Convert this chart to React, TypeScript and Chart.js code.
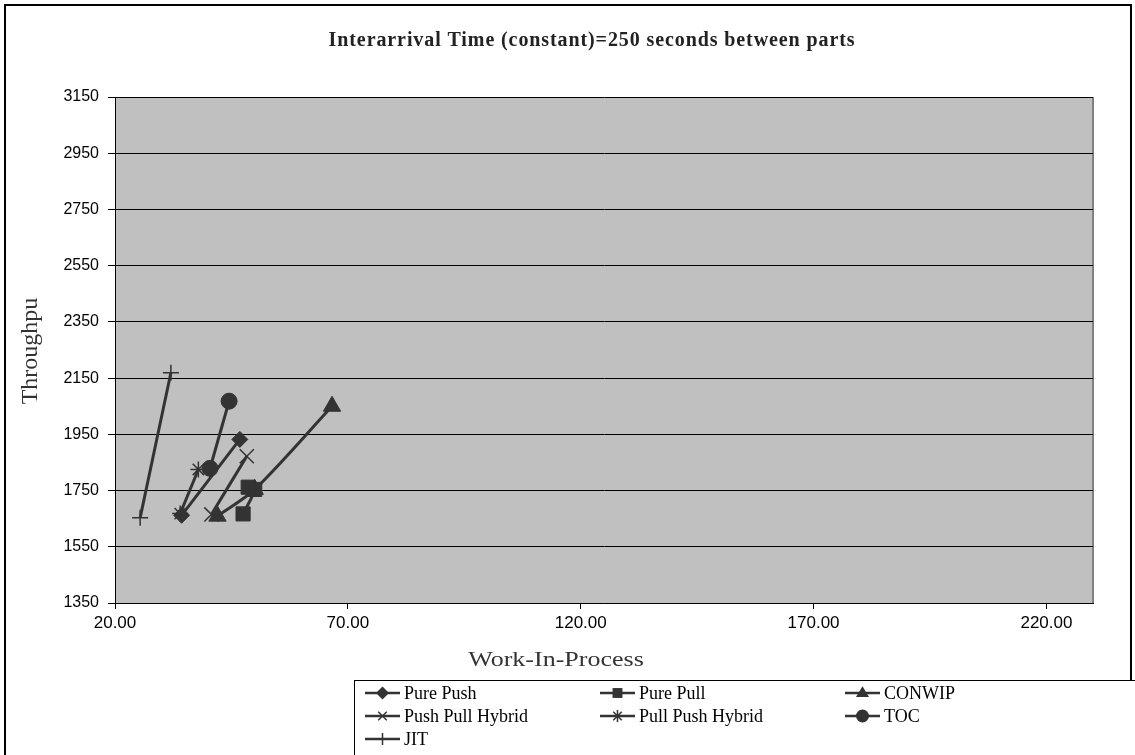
import React, { useEffect, useRef } from 'react';
import { Chart, registerables } from 'chart.js';

Chart.register(...registerables);

// ---- data ----
const seriesNames = ['Pure Push', 'Pure Pull', 'CONWIP', 'Push Pull Hybrid', 'Pull Push Hybrid', 'TOC', 'JIT'];
const purePushWip = [34.3, 46.8];
const purePushThr = [1662, 1932];
const purePullWip = [47.5, 50.0, 48.6];
const purePullThr = [1667, 1754, 1762];
const conwipWip = [42.0, 50.0, 66.6];
const conwipThr = [1659, 1754, 2050];
const pushPullWip = [40.7, 48.3];
const pushPullThr = [1665, 1872];
const pullPushWip = [34.0, 37.9];
const pullPushThr = [1668, 1825];
const tocWip = [40.4, 44.5];
const tocThr = [1829, 2068];
const jitWip = [25.4, 32.0];
const jitThr = [1653, 2169];
const xTicks = [20, 70, 120, 170, 220];
const yTicks = [1350, 1550, 1750, 1950, 2150, 2350, 2550, 2750, 2950, 3150];
const chartTitle = 'Interarrival Time (constant)=250 seconds between parts';
const xTitle = 'Work-In-Process';
const yTitle = 'Throughpu';

const INK = '#333333';
const markerStyles = ['rectRot', 'rect', 'triangle', 'crossRot', 'star', 'circle', 'cross'];
const markerRadius = [8, 10, 10, 10, 8, 8, 8];
const legendRadius = [6.5, 7, 7.5, 6, 6, 6.5, 6];

const toPts = (xs: number[], ys: number[]) => xs.map((x, i) => ({ x, y: ys[i] }));
const seriesData = [
  toPts(purePushWip, purePushThr),
  toPts(purePullWip, purePullThr),
  toPts(conwipWip, conwipThr),
  toPts(pushPullWip, pushPullThr),
  toPts(pullPushWip, pullPushThr),
  toPts(tocWip, tocThr),
  toPts(jitWip, jitThr),
];

function drawMarker(ctx: CanvasRenderingContext2D, style: string, x: number, y: number, r: number) {
  ctx.save();
  ctx.fillStyle = INK;
  ctx.strokeStyle = INK;
  ctx.lineWidth = 1.5;
  ctx.beginPath();
  if (style === 'rectRot') {
    ctx.moveTo(x, y - r); ctx.lineTo(x + r, y); ctx.lineTo(x, y + r); ctx.lineTo(x - r, y); ctx.closePath(); ctx.fill();
  } else if (style === 'rect') {
    const h = r * Math.SQRT1_2; ctx.rect(x - h, y - h, 2 * h, 2 * h); ctx.fill();
  } else if (style === 'triangle') {
    const h = r * 0.9;
    ctx.moveTo(x, y - h); ctx.lineTo(x + r * 0.87, y + h * 0.6); ctx.lineTo(x - r * 0.87, y + h * 0.6); ctx.closePath(); ctx.fill();
  } else if (style === 'circle') {
    ctx.arc(x, y, r, 0, Math.PI * 2); ctx.fill();
  } else if (style === 'cross') {
    ctx.moveTo(x - r, y); ctx.lineTo(x + r, y); ctx.moveTo(x, y - r); ctx.lineTo(x, y + r); ctx.stroke();
  } else if (style === 'crossRot') {
    const d = r * Math.SQRT1_2;
    ctx.moveTo(x - d, y - d); ctx.lineTo(x + d, y + d); ctx.moveTo(x - d, y + d); ctx.lineTo(x + d, y - d); ctx.stroke();
  } else if (style === 'star') {
    const d = r * Math.SQRT1_2;
    ctx.moveTo(x - d, y - d); ctx.lineTo(x + d, y + d); ctx.moveTo(x - d, y + d); ctx.lineTo(x + d, y - d);
    ctx.moveTo(x, y - r); ctx.lineTo(x, y + r); ctx.stroke();
  }
  ctx.restore();
}

const decorPlugin = {
  id: 'decor',
  beforeDraw(chart: any) {
    const { ctx, chartArea } = chart;
    ctx.save();
    ctx.fillStyle = '#ffffff';
    ctx.fillRect(0, 0, chart.width, chart.height);
    ctx.fillStyle = '#c0c0c0';
    ctx.fillRect(chartArea.left, chartArea.top, chartArea.right - chartArea.left, chartArea.bottom - chartArea.top);
    ctx.strokeStyle = '#808080';
    ctx.lineWidth = 2;
    ctx.beginPath();
    ctx.moveTo(chartArea.right, chartArea.top);
    ctx.lineTo(chartArea.right, chartArea.bottom);
    ctx.stroke();
    ctx.restore();
  },
  afterDraw(chart: any) {
    const { ctx } = chart;
    ctx.save();
    // outer frame
    ctx.strokeStyle = '#000';
    ctx.lineWidth = 2;
    ctx.strokeRect(5, 5, 1126, 800);
    // title
    ctx.fillStyle = '#222';
    ctx.textAlign = 'center';
    ctx.textBaseline = 'middle';
    ctx.font = 'bold 20px "Liberation Serif"';
    (ctx as any).letterSpacing = '0.9px';
    ctx.fillText(chartTitle, 592, 41);
    (ctx as any).letterSpacing = '0px';
    // axis titles
    ctx.fillStyle = '#333';
    ctx.font = '20px "Liberation Serif"';
    ctx.save();
    ctx.translate(556, 661);
    ctx.scale(1.3, 1);
    ctx.fillText(xTitle, 0, 0);
    ctx.restore();
    ctx.save();
    ctx.translate(31, 351);
    ctx.rotate(-Math.PI / 2);
    ctx.font = '24px "Liberation Serif"';
    ctx.fillText(yTitle, 0, 0);
    ctx.restore();
    // legend box
    ctx.fillStyle = '#fff';
    ctx.fillRect(354, 680, 900, 200);
    ctx.strokeStyle = '#000';
    ctx.lineWidth = 1;
    ctx.strokeRect(354.5, 680.5, 900, 200);
    const colX = [365, 600, 845];
    const rowY = [693, 716, 739];
    ctx.textAlign = 'left';
    ctx.font = '18px "Liberation Serif"';
    seriesNames.forEach((name, i) => {
      const cx = colX[i % 3];
      const cy = rowY[Math.floor(i / 3)];
      ctx.strokeStyle = INK;
      ctx.lineWidth = 2.5;
      ctx.beginPath();
      ctx.moveTo(cx, cy);
      ctx.lineTo(cx + 35, cy);
      ctx.stroke();
      drawMarker(ctx, markerStyles[i], cx + 17.5, cy, legendRadius[i]);
      ctx.fillStyle = '#000';
      ctx.fillText(name, cx + 39, cy + 1);
    });
    ctx.restore();
  },
};

export default function App() {
  const ref = useRef<HTMLCanvasElement>(null);
  useEffect(() => {
    if (!ref.current) return;
    const chart = new Chart(ref.current, {
      type: 'line',
      data: {
        datasets: seriesNames.map((name, i) => ({
          label: name,
          data: seriesData[i],
          borderColor: INK,
          backgroundColor: INK,
          borderWidth: 3,
          tension: 0.3,
          pointStyle: markerStyles[i] as any,
          pointRadius: markerRadius[i],
          pointBorderWidth: ['cross', 'crossRot', 'star'].includes(markerStyles[i]) ? 1.5 : 1,
          pointBorderColor: INK,
          pointBackgroundColor: INK,
          fill: false,
        })),
      },
      options: {
        animation: false,
        responsive: false,
        devicePixelRatio: 1,
        layout: { padding: { left: 0, right: 42, top: 97, bottom: 0 } },
        plugins: { legend: { display: false }, title: { display: false }, tooltip: { enabled: false } },
        scales: {
          x: {
            type: 'linear',
            min: 20,
            max: 230,
            afterFit: (s: any) => { s.height = 152; },
            afterBuildTicks: (s: any) => { s.ticks = xTicks.map((v) => ({ value: v })); },
            grid: { display: true, drawOnChartArea: false, drawTicks: true, tickLength: 6, color: '#000', tickColor: '#000' },
            border: { display: true, color: '#000', width: 1 },
            ticks: {
              color: '#000',
              padding: 4,
              maxRotation: 0,
              font: { family: '"Liberation Sans"', size: 17 },
              callback: (v: any) => Number(v).toFixed(2),
            },
          },
          y: {
            type: 'linear',
            min: 1350,
            max: 3150,
            afterFit: (s: any) => { s.width = 115; },
            afterBuildTicks: (s: any) => { s.ticks = yTicks.map((v) => ({ value: v })); },
            grid: { display: true, drawOnChartArea: true, drawTicks: true, tickLength: 7, color: '#000', tickColor: '#000', lineWidth: 1 },
            border: { display: true, color: '#000', width: 1 },
            ticks: {
              color: '#000',
              padding: 9,
              font: { family: '"Liberation Sans"', size: 16 },
              callback: (v: any) => String(v),
            },
          },
        },
      },
      plugins: [decorPlugin],
    });
    return () => chart.destroy();
  }, []);
  return (
    <div style={{ position: 'absolute', left: 0, top: 0, width: 1135, height: 755 }}>
      <canvas ref={ref} width={1135} height={755} />
    </div>
  );
}
